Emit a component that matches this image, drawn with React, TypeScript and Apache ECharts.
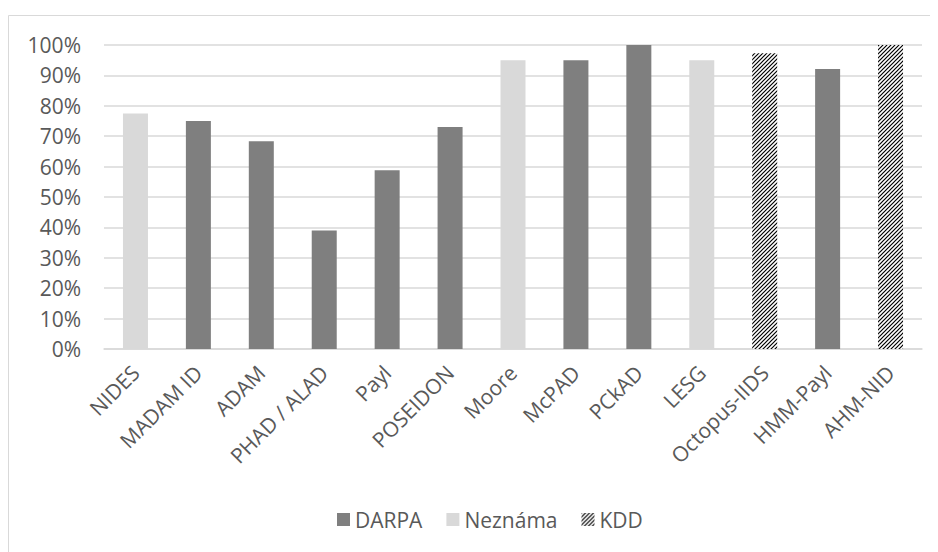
import React, { useEffect, useRef } from "react";
import * as echarts from "echarts";

const categories = [
  "NIDES", "MADAM ID", "ADAM", "PHAD / ALAD", "Payl", "POSEIDON", "Moore",
  "McPAD", "PCkAD", "LESG", "Octopus-IIDS", "HMM-Payl", "AHM-NID",
];
const darpa = [null, 75, 68.3, 39, 58.8, 73, null, 95, 100, null, null, 92.1, null];
const neznama = [77.5, null, null, null, null, null, 95, null, null, 95, null, null, null];
const kdd = [null, null, null, null, null, null, null, null, null, null, 97.3, null, 100];
const yTicks = [0, 10, 20, 30, 40, 50, 60, 70, 80, 90, 100];

const hatchSvg =
  "data:image/svg+xml;base64," +
  btoa(
    '<svg xmlns="http://www.w3.org/2000/svg" width="4" height="4">' +
      '<rect width="4" height="4" fill="white"/>' +
      '<path d="M-1,1 L1,-1 M0,4 L4,0 M3,5 L5,3" stroke="black" stroke-width="1.2"/>' +
      "</svg>"
  );

export default function App() {
  const ref = useRef<HTMLDivElement>(null);
  useEffect(() => {
    if (!ref.current) return;
    const chart = echarts.init(ref.current, null, { renderer: "svg" });
    const font = "'Open Sans', sans-serif";
    const txt = "#595959";
    const hatch = { image: hatchSvg, repeat: "repeat", imageWidth: 4, imageHeight: 4 };
    chart.setOption({
      animation: false,
      backgroundColor: "#ffffff",
      graphic: [
        {
          type: "rect",
          shape: { x: 0.5, y: 7.5, width: 1000, height: 700 },
          style: { fill: "none", stroke: "#d9d9d9", lineWidth: 1 },
          silent: true,
        },
      ],
      grid: { left: 96, right: 16, top: 37, bottom: 203, containLabel: false },
      legend: {
        left: 324,
        top: 496,
        itemWidth: 13,
        itemHeight: 13,
        itemGap: 24,
        icon: "rect",
        textStyle: { color: txt, fontSize: 21, fontFamily: font },
        data: ["DARPA", "Neznáma", "KDD"],
      },
      xAxis: {
        type: "category",
        data: categories,
        axisLine: { lineStyle: { color: "#d9d9d9", width: 1.5 } },
        axisTick: { show: false },
        axisLabel: {
          rotate: 45,
          interval: 0,
          color: txt,
          fontSize: 21,
          fontFamily: font,
          margin: 20,
        },
      },
      yAxis: {
        type: "value",
        min: 0,
        max: 100,
        interval: 10,
        axisLine: { show: false },
        axisTick: { show: false },
        splitLine: { lineStyle: { color: "#d9d9d9", width: 1.5 } },
        axisLabel: {
          color: txt,
          fontSize: 21,
          fontFamily: font,
          margin: 23,
          formatter: (v: number) => (yTicks.includes(v) ? v + "%" : ""),
        },
      },
      series: [
        { name: "DARPA", type: "bar", stack: "s", barWidth: 25, data: darpa, itemStyle: { color: "#7f7f7f" } },
        { name: "Neznáma", type: "bar", stack: "s", barWidth: 25, data: neznama, itemStyle: { color: "#d9d9d9" } },
        { name: "KDD", type: "bar", stack: "s", barWidth: 25, data: kdd, itemStyle: { color: hatch } },
      ],
    });
    return () => chart.dispose();
  }, []);
  return <div ref={ref} style={{ width: 930, height: 544 }} />;
}
